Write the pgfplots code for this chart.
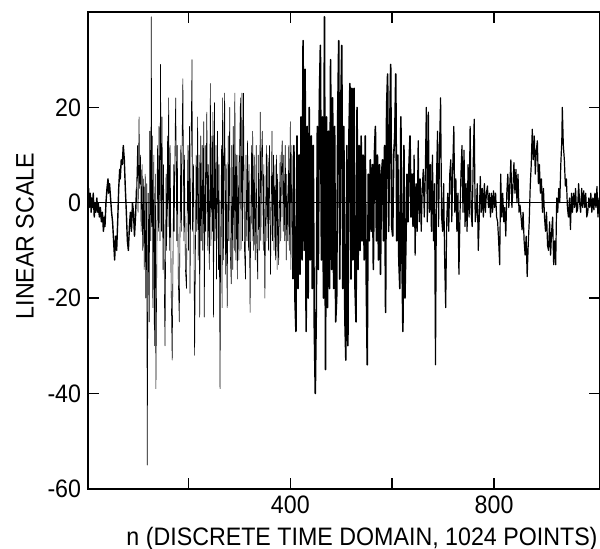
\documentclass[border=0pt]{standalone}
\usepackage{fontspec}
\setmainfont{Liberation Sans}[FakeStretch=0.92]
\usepackage{pgfplots}
\pgfplotsset{compat=1.18}

\begin{document}
\begin{tikzpicture}
\begin{axis}[
    scale only axis,
    width=255.5pt, height=238pt,
    xmin=3, xmax=1008, ymin=-60, ymax=40,
    xtick={200,400,600,800}, xticklabels={,400,,800},
    ytick={-60,-40,-20,0,20},
    tick align=inside, major tick length=5.5pt,
    tick style={line width=0.8pt, black},
    axis line style={line width=0.9pt},
    ticklabel style={font=\fontsize{12.6}{14}\selectfont},
    /pgf/number format/assume math mode=true,
    xlabel={n (DISCRETE TIME DOMAIN, 1024 POINTS)},
    ylabel={LINEAR SCALE},
    label style={font=\fontsize{12.6}{14}\selectfont},
    xlabel style={at={(ticklabel cs:0.535)}},
    ylabel style={at={(ticklabel cs:0.53)}},
]
\coordinate (SW) at (rel axis cs:0,0);
\coordinate (NE) at (rel axis cs:1,1);

% zero line
\addplot[black, line width=0.5pt] coordinates {(3,0) (1008,0)};

% onset, n < 128
\addplot[black, line width=0.7pt, line join=round] coordinates {
(3,1) (4,3) (5,-1) (7,2) (9,-2) (10,1) (12,-1) (13,2) (15,-3) (17,0) (18,-2) (20,1)
(22,-2) (23,0) (25,-3) (27,-1) (29,-4) (31,-2) (33,-6) (35,-3) (36,-5) (38,0) (40,3)
(42,5) (43,2) (45,4) (47,1) (49,-2) (51,-4) (53,-8) (55,-12) (57,-7) (59,-10) (61,-4)
(63,3) (65,7) (66,5) (68,9) (70,8) (72,12) (74,9) (76,3) (78,-2) (80,-8) (82,-10)
(84,-5) (86,-2) (88,-6) (90,0) (92,-2) (94,-7) (96,-3) (98,3)
};

% voiced part with distinct pitch spikes
\addplot[black, line width=0.3pt, line join=round] coordinates {
(98,3) (100,12) (101,-2) (103,18) (104,3) (106,10) (107,-6) (109,8) (110,-10) (112,5)
(113,-14) (115,6) (116,-20) (118,4) (119,-55) (121,2) (123,-25) (124,15) (126,-8) (127,39)
(128,-5) (129,14) (130,-22) (132,10) (133,-30) (135,6) (136,-39) (138,-10) (139,12) (141,-6)
(142,16) (144,-8) (145,29) (147,-6) (148,18) (150,-14) (151,8) (153,-22) (154,-30) (156,6)
(157,-10) (159,14) (160,-5) (161,22) (163,-10) (164,12) (166,-18) (168,-33) (169,-20) (171,8)
(172,-6) (174,16) (175,22) (177,-8) (178,12) (180,-16) (182,-25) (183,-10) (185,12) (186,-6)
(188,18) (189,26) (191,-8) (192,10) (194,-14) (196,-18) (197,-6) (199,12) (200,-10) (202,16)
(203,-19) (205,12) (207,30) (208,-6) (210,8) (212,-32) (213,-20) (215,10) (216,-6) (218,18)
(219,-12) (221,10) (222,-24) (224,14) (225,-8) (227,12) (228,-10) (230,17) (231,-24) (233,12)
(234,-6) (236,19) (238,-10) (239,8) (241,-14) (243,25) (244,-9) (246,14) (247,-6) (248,19)
(249,-24) (251,21) (252,-8) (254,12) (255,-16) (257,15) (259,-14) (260,8) (262,-39) (263,-10)
(265,12) (266,-22) (267,22) (269,-12) (270,14) (271,23) (273,-15) (274,8) (276,-22) (278,14)
(279,-8) (281,20) (282,-10) (284,-17) (285,12) (287,-14) (288,16) (290,-10) (291,23) (293,-12)
(294,10) (296,-16) (297,10) (299,-12) (300,8) (302,22) (303,-10) (305,23) (306,-8) (308,23)
(310,-10) (312,-16) (313,10) (315,-8) (316,13) (318,-10) (319,8) (321,-23) (322,-6) (324,12)
(325,-8) (326,15) (328,-10) (329,10) (331,-12) (333,12) (334,-8) (336,-16) (337,10) (339,-10)
(341,19) (342,-8) (344,12) (345,15) (347,-10) (348,8) (350,-20) (351,-6) (353,12) (354,-8)
(356,10) (357,-10) (359,12) (361,-15) (362,-6) (364,15) (365,-8) (367,10) (368,-10) (370,8)
(371,-12) (373,10) (374,-14) (375,6) (377,-13) (378,-6) (380,10) (381,-8) (383,10) (384,13)
(386,-6) (387,10) (389,-8) (390,12) (392,-12) (393,6) (395,-8) (397,12) (398,-10) (400,17)
(401,-14) (403,12) (405,-16)
};

% dense part
\addplot[black, line width=0.8pt, line join=round] coordinates {
(405,-16) (407,12) (409,-20) (411,-27) (413,14) (415,-18) (417,10) (419,-15) (421,18) (423,-12)
(425,34) (427,-10) (429,28) (431,-27) (433,16) (435,-20) (437,20) (439,-12) (441,14) (443,-18)
(445,12) (447,-26) (449,-40) (451,-22) (453,16) (455,-14) (457,22) (459,33) (461,-12) (463,18)
(465,-20) (467,39) (469,-35) (471,18) (473,-22) (475,15) (477,-18) (479,30) (481,-14) (483,22)
(485,-18) (487,16) (489,-25) (491,-20) (493,18) (495,34) (497,-16) (499,20) (501,33) (503,-18)
(505,16) (507,-24) (509,-33) (511,12) (513,-30) (515,14) (517,25) (519,-16) (521,24) (523,-12)
(525,24) (527,-18) (529,-25) (531,20) (533,-14) (535,12) (537,-10) (539,14) (541,-8) (543,10)
(545,-12) (547,14) (549,-16) (551,-34) (553,6) (555,-8) (557,9) (559,-6) (561,8) (563,-14)
(565,10) (567,16) (569,-8) (571,10) (573,-12) (575,8) (577,-15) (579,6) (581,9) (583,-8)
(585,12) (587,-23) (589,20) (591,27) (593,-6) (595,14) (597,29) (599,-5) (601,-7) (603,10)
(605,14) (607,27) (609,-8) (611,10) (613,-12) (615,-18) (617,18) (619,-10) (621,-27) (623,12)
(625,-20) (627,-8) (629,6) (631,-4) (633,8) (635,14) (637,-3) (639,6) (641,-5)
};

% decaying tail
\addplot[black, line width=0.6pt, line join=round] coordinates {
(641,-5) (643,10) (645,-11) (647,4) (649,-6) (651,13) (653,-4) (655,5) (657,-6) (659,3)
(661,7) (663,-3) (665,6) (667,20) (669,-4) (671,19) (673,-2) (675,8) (677,-6) (679,10)
(681,-8) (683,4) (685,-34) (687,5) (689,15) (691,-5) (693,12) (695,22) (697,-3) (699,-6)
(701,4) (703,-12) (705,-22) (707,-4) (709,2) (711,-6) (713,6) (715,9) (717,-4) (719,8)
(721,16) (723,-2) (725,5) (727,-6) (729,2) (731,-15) (733,-3) (735,6) (737,12) (739,-2)
(741,11) (743,-5) (745,4) (747,-6) (749,8) (751,-3) (753,16) (755,-2) (757,-5) (759,8)
(761,17.5) (763,-4) (765,-2) (767,4) (769,-10) (771,-3) (773,5.5) (775,-2) (777,3) (779,-3)
(781,4) (783,-2) (785,2) (787,3.5) (789,-1) (791,2) (793,-3) (795,2) (797,-2) (799,2.5)
(801,-1) (803,2) (805,-3) (807,-4) (809,-8) (811,-13) (813,6) (815,-3) (817,2) (819,-4)
(821,-1) (823,-7) (825,2) (827,6) (829,-1) (831,4) (833,9) (835,-1) (837,3) (839,8.4)
(841,2) (843,7) (845,0) (847,6) (849,-2) (851,-0.5) (853,-3) (855,-5.7) (857,-2) (859,-8)
(861,-11) (863,-7) (865,-15.5) (867,-9) (869,-4) (871,3.5) (873,8) (875,15.4) (877,9) (879,14)
(881,6) (883,11) (885,13) (887,4) (889,8) (891,2) (893,5) (895,-2) (897,3) (899,-3)
(901,-6) (903,-2) (905,-9) (907,-10) (909,-4) (911,-11) (913,-6) (915,-3) (917,-13) (919,-8)
(921,-13) (923,1) (925,-2) (927,3) (929,0) (931,8) (933,13) (934,20) (936,12) (938,9)
(940,3.5) (942,5) (944,-1) (946,-3) (948,1) (950,-5.6) (952,2) (954,-2) (956,2) (958,-1)
(960,3) (962,-2) (964,-1.5) (966,4) (968,0) (970,-2) (972,3) (974,-1) (976,2.5) (978,-1)
(980,2) (982,-3) (984,-2) (986,1) (988,-1) (990,2) (992,-2) (994,1) (996,-1.5) (998,2)
(1000,-1) (1002,3.4) (1004,-3) (1006,1) (1008,0)
};
\end{axis}
\pgfresetboundingbox
\path[use as bounding box] ([shift={(-44pt,-30pt)}]SW) rectangle ([shift={(0pt,6pt)}]NE);
\end{tikzpicture}
\end{document}
